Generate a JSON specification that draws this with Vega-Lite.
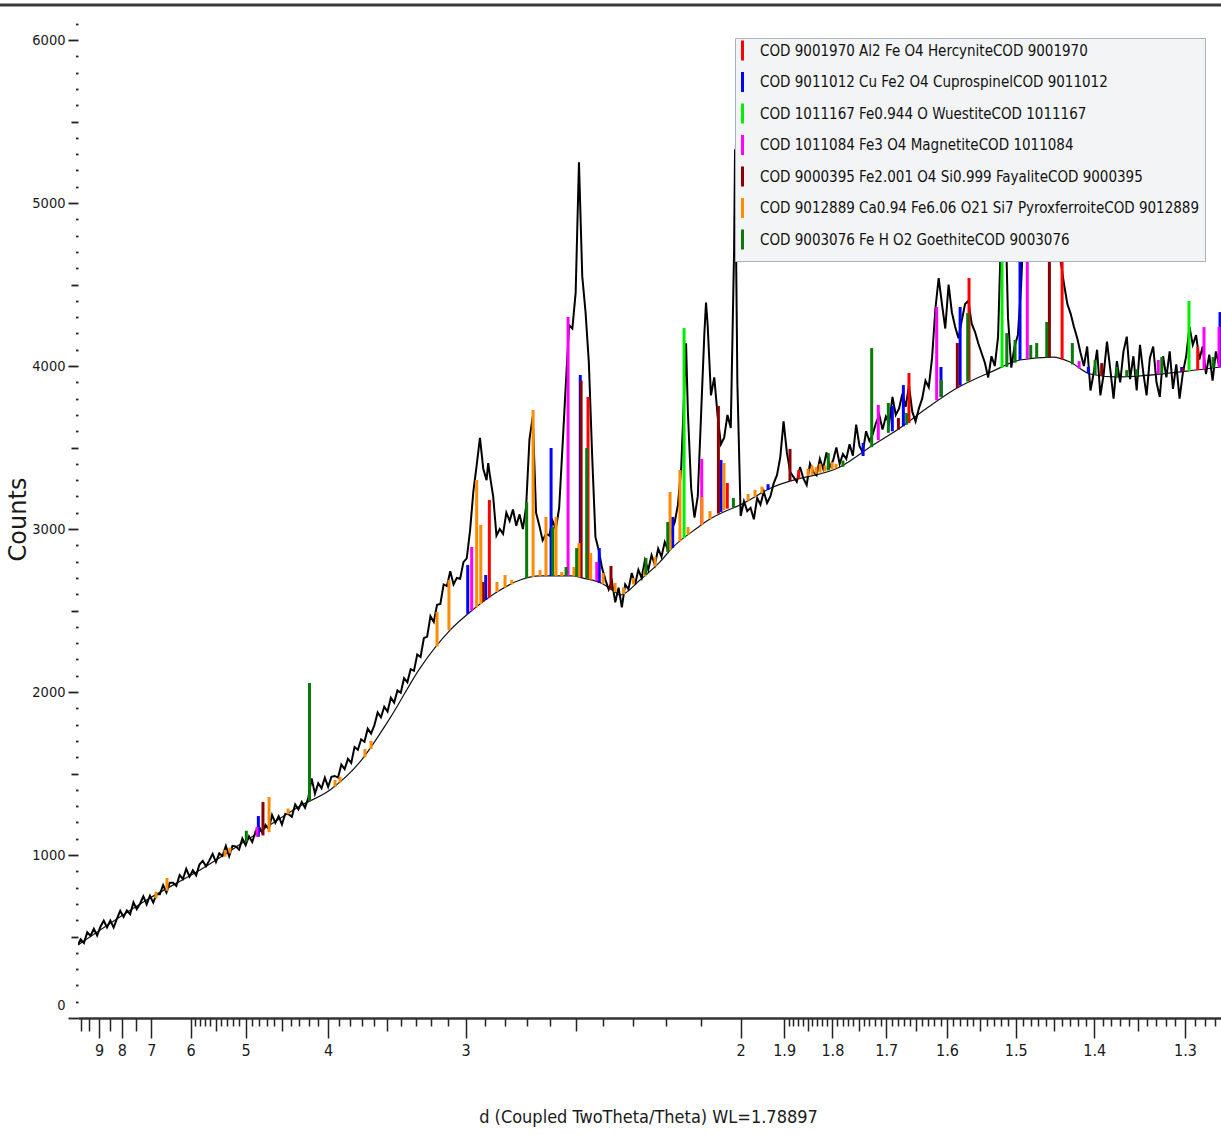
{
  "$schema": "https://vega.github.io/schema/vega-lite/v6.json",
  "width": 1143,
  "height": 1013,
  "autosize": {"type": "none"},
  "padding": {"left": 78, "top": 5, "right": 0, "bottom": 117},
  "background": "white",
  "config": {
    "view": {"stroke": null},
    "font": "DejaVu Sans Condensed, sans-serif"
  },
  "datasets": {
    "scan": [
      {"q":0.0985,"c":452},{"q":0.100,"c":483},{"q":0.102,"c":460},{"q":0.104,"c":526},{"q":0.106,"c":505},{"q":0.108,"c":547},{"q":0.110,"c":506},{"q":0.112,"c":560},{"q":0.114,"c":597},{"q":0.116,"c":555},{"q":0.118,"c":598},{"q":0.120,"c":555},{"q":0.122,"c":609},{"q":0.124,"c":658},{"q":0.126,"c":620},{"q":0.128,"c":660},{"q":0.130,"c":637},{"q":0.132,"c":710},{"q":0.134,"c":668},{"q":0.136,"c":701},{"q":0.138,"c":747},{"q":0.140,"c":697},{"q":0.142,"c":750},{"q":0.144,"c":708},{"q":0.146,"c":760},{"q":0.148,"c":760},{"q":0.150,"c":815},{"q":0.152,"c":770},{"q":0.154,"c":830},{"q":0.156,"c":830},{"q":0.158,"c":810},{"q":0.160,"c":877},{"q":0.162,"c":853},{"q":0.164,"c":915},{"q":0.166,"c":867},{"q":0.168,"c":907},{"q":0.170,"c":875},{"q":0.172,"c":942},{"q":0.174,"c":964},{"q":0.176,"c":931},{"q":0.178,"c":967},{"q":0.180,"c":1007},{"q":0.182,"c":957},{"q":0.184,"c":1010},{"q":0.186,"c":995},{"q":0.188,"c":1055},{"q":0.190,"c":993},{"q":0.192,"c":1056},{"q":0.194,"c":1053},{"q":0.196,"c":1033},{"q":0.198,"c":1101},{"q":0.200,"c":1060},{"q":0.202,"c":1115},{"q":0.204,"c":1080},{"q":0.206,"c":1145},{"q":0.208,"c":1175},{"q":0.210,"c":1140},{"q":0.212,"c":1185},{"q":0.214,"c":1160},{"q":0.216,"c":1245},{"q":0.218,"c":1197},{"q":0.220,"c":1238},{"q":0.222,"c":1187},{"q":0.224,"c":1253},{"q":0.226,"c":1250},{"q":0.228,"c":1235},{"q":0.230,"c":1310},{"q":0.232,"c":1280},{"q":0.234,"c":1325},{"q":0.236,"c":1290},{"q":0.238,"c":1353},{"q":0.240,"c":1470},{"q":0.242,"c":1375},{"q":0.244,"c":1440},{"q":0.246,"c":1410},{"q":0.248,"c":1475},{"q":0.250,"c":1418},{"q":0.252,"c":1480},{"q":0.254,"c":1485},{"q":0.256,"c":1475},{"q":0.258,"c":1555},{"q":0.260,"c":1527},{"q":0.262,"c":1590},{"q":0.264,"c":1565},{"q":0.266,"c":1662},{"q":0.268,"c":1645},{"q":0.270,"c":1710},{"q":0.272,"c":1695},{"q":0.274,"c":1775},{"q":0.276,"c":1745},{"q":0.278,"c":1795},{"q":0.280,"c":1875},{"q":0.282,"c":1845},{"q":0.284,"c":1910},{"q":0.286,"c":1880},{"q":0.288,"c":1965},{"q":0.290,"c":1935},{"q":0.292,"c":2010},{"q":0.294,"c":1995},{"q":0.296,"c":2085},{"q":0.298,"c":2060},{"q":0.300,"c":2140},{"q":0.302,"c":2130},{"q":0.304,"c":2230},{"q":0.306,"c":2215},{"q":0.308,"c":2330},{"q":0.310,"c":2340},{"q":0.312,"c":2465},{"q":0.314,"c":2430},{"q":0.316,"c":2535},{"q":0.318,"c":2540},{"q":0.320,"c":2660},{"q":0.322,"c":2650},{"q":0.324,"c":2741},{"q":0.326,"c":2660},{"q":0.328,"c":2700},{"q":0.330,"c":2695},{"q":0.332,"c":2797},{"q":0.334,"c":2820},{"q":0.336,"c":2990},{"q":0.338,"c":3230},{"q":0.340,"c":3390},{"q":0.342,"c":3560},{"q":0.344,"c":3370},{"q":0.346,"c":3300},{"q":0.347,"c":3405},{"q":0.348,"c":3330},{"q":0.350,"c":3200},{"q":0.352,"c":2960},{"q":0.354,"c":3000},{"q":0.356,"c":2970},{"q":0.358,"c":3100},{"q":0.360,"c":3050},{"q":0.362,"c":3120},{"q":0.364,"c":3020},{"q":0.366,"c":3090},{"q":0.368,"c":3000},{"q":0.370,"c":3140},{"q":0.372,"c":3550},{"q":0.374,"c":3690},{"q":0.376,"c":3100},{"q":0.378,"c":3020},{"q":0.380,"c":2930},{"q":0.382,"c":2970},{"q":0.384,"c":2960},{"q":0.386,"c":3050},{"q":0.388,"c":3000},{"q":0.390,"c":3130},{"q":0.392,"c":3500},{"q":0.394,"c":3880},{"q":0.396,"c":4250},{"q":0.398,"c":4230},{"q":0.400,"c":4450},{"q":0.402,"c":5250},{"q":0.404,"c":4550},{"q":0.406,"c":4330},{"q":0.408,"c":4020},{"q":0.410,"c":3450},{"q":0.412,"c":2950},{"q":0.414,"c":2870},{"q":0.416,"c":2760},{"q":0.418,"c":2690},{"q":0.420,"c":2630},{"q":0.422,"c":2680},{"q":0.424,"c":2550},{"q":0.426,"c":2640},{"q":0.428,"c":2520},{"q":0.430,"c":2660},{"q":0.432,"c":2630},{"q":0.434,"c":2730},{"q":0.436,"c":2660},{"q":0.438,"c":2750},{"q":0.440,"c":2700},{"q":0.442,"c":2810},{"q":0.444,"c":2750},{"q":0.446,"c":2840},{"q":0.448,"c":2780},{"q":0.450,"c":2880},{"q":0.452,"c":2830},{"q":0.454,"c":2920},{"q":0.456,"c":2870},{"q":0.458,"c":2990},{"q":0.460,"c":3040},{"q":0.462,"c":3150},{"q":0.464,"c":3380},{"q":0.466,"c":3900},{"q":0.4669,"c":4140},{"q":0.468,"c":3720},{"q":0.470,"c":3250},{"q":0.472,"c":3070},{"q":0.474,"c":3200},{"q":0.476,"c":3700},{"q":0.478,"c":4200},{"q":0.479,"c":4390},{"q":0.480,"c":4250},{"q":0.482,"c":3820},{"q":0.484,"c":3930},{"q":0.486,"c":3700},{"q":0.488,"c":3520},{"q":0.490,"c":3560},{"q":0.492,"c":3700},{"q":0.494,"c":3620},{"q":0.496,"c":4700},{"q":0.4966,"c":5330},{"q":0.498,"c":3900},{"q":0.500,"c":3080},{"q":0.502,"c":3170},{"q":0.504,"c":3110},{"q":0.506,"c":3130},{"q":0.508,"c":3060},{"q":0.510,"c":3190},{"q":0.512,"c":3150},{"q":0.514,"c":3230},{"q":0.516,"c":3160},{"q":0.518,"c":3200},{"q":0.520,"c":3280},{"q":0.522,"c":3330},{"q":0.524,"c":3440},{"q":0.526,"c":3660},{"q":0.528,"c":3470},{"q":0.530,"c":3350},{"q":0.532,"c":3320},{"q":0.534,"c":3290},{"q":0.536,"c":3380},{"q":0.538,"c":3310},{"q":0.540,"c":3270},{"q":0.542,"c":3400},{"q":0.544,"c":3350},{"q":0.546,"c":3330},{"q":0.548,"c":3430},{"q":0.550,"c":3370},{"q":0.552,"c":3470},{"q":0.554,"c":3380},{"q":0.556,"c":3420},{"q":0.558,"c":3500},{"q":0.560,"c":3400},{"q":0.562,"c":3460},{"q":0.564,"c":3430},{"q":0.566,"c":3520},{"q":0.568,"c":3450},{"q":0.570,"c":3640},{"q":0.572,"c":3510},{"q":0.574,"c":3470},{"q":0.576,"c":3600},{"q":0.578,"c":3540},{"q":0.580,"c":3580},{"q":0.582,"c":3650},{"q":0.584,"c":3700},{"q":0.586,"c":3610},{"q":0.588,"c":3690},{"q":0.590,"c":3650},{"q":0.592,"c":3810},{"q":0.594,"c":3700},{"q":0.596,"c":3740},{"q":0.598,"c":3830},{"q":0.600,"c":3750},{"q":0.602,"c":3880},{"q":0.604,"c":3720},{"q":0.606,"c":3660},{"q":0.608,"c":3740},{"q":0.610,"c":3800},{"q":0.612,"c":3910},{"q":0.614,"c":3870},{"q":0.616,"c":4050},{"q":0.618,"c":4350},{"q":0.620,"c":4540},{"q":0.622,"c":4380},{"q":0.624,"c":4230},{"q":0.626,"c":4500},{"q":0.628,"c":4330},{"q":0.630,"c":4240},{"q":0.632,"c":4170},{"q":0.634,"c":4280},{"q":0.636,"c":4380},{"q":0.638,"c":4400},{"q":0.640,"c":4260},{"q":0.642,"c":4210},{"q":0.644,"c":4140},{"q":0.646,"c":4080},{"q":0.648,"c":4020},{"q":0.650,"c":3930},{"q":0.652,"c":4060},{"q":0.654,"c":4000},{"q":0.656,"c":4180},{"q":0.658,"c":4900},{"q":0.660,"c":5150},{"q":0.662,"c":4300},{"q":0.664,"c":3990},{"q":0.666,"c":4120},{"q":0.668,"c":4190},{"q":0.670,"c":4500},{"q":0.672,"c":5000},{"q":0.674,"c":5150},{"q":0.676,"c":4950},{"q":0.678,"c":4850},{"q":0.680,"c":4800},{"q":0.682,"c":4870},{"q":0.684,"c":4950},{"q":0.686,"c":5050},{"q":0.688,"c":4950},{"q":0.690,"c":4850},{"q":0.692,"c":4760},{"q":0.694,"c":4640},{"q":0.696,"c":4500},{"q":0.698,"c":4380},{"q":0.700,"c":4320},{"q":0.702,"c":4240},{"q":0.704,"c":4170},{"q":0.706,"c":4080},{"q":0.708,"c":4000},{"q":0.710,"c":4120},{"q":0.712,"c":3850},{"q":0.714,"c":3960},{"q":0.716,"c":4100},{"q":0.718,"c":3820},{"q":0.720,"c":3950},{"q":0.722,"c":4150},{"q":0.724,"c":3980},{"q":0.726,"c":3800},{"q":0.728,"c":4030},{"q":0.730,"c":3900},{"q":0.732,"c":4090},{"q":0.734,"c":4180},{"q":0.736,"c":3920},{"q":0.738,"c":4060},{"q":0.740,"c":3850},{"q":0.742,"c":4130},{"q":0.744,"c":3960},{"q":0.746,"c":3820},{"q":0.748,"c":4050},{"q":0.750,"c":4120},{"q":0.752,"c":3900},{"q":0.754,"c":3810},{"q":0.756,"c":4060},{"q":0.758,"c":3930},{"q":0.760,"c":4090},{"q":0.762,"c":3860},{"q":0.764,"c":4010},{"q":0.766,"c":3800},{"q":0.768,"c":3960},{"q":0.770,"c":4060},{"q":0.772,"c":4240},{"q":0.774,"c":4130},{"q":0.776,"c":4190},{"q":0.778,"c":4040},{"q":0.780,"c":4120},{"q":0.782,"c":3950},{"q":0.784,"c":4070},{"q":0.786,"c":3910},{"q":0.788,"c":4090},{"q":0.790,"c":4000},{"q":0.792,"c":4150}
    ],
    "background": [
      {"q":0.0984,"c":448},{"q":0.1420,"c":736},{"q":0.1723,"c":908},{"q":0.2026,"c":1104},{"q":0.2330,"c":1301},{"q":0.2511,"c":1399},{"q":0.2693,"c":1571},{"q":0.2875,"c":1840},{"q":0.3057,"c":2147},{"q":0.3239,"c":2380},{"q":0.3360,"c":2491},{"q":0.3523,"c":2614},{"q":0.3663,"c":2687},{"q":0.3784,"c":2712},{"q":0.3984,"c":2712},{"q":0.4045,"c":2699},{"q":0.4166,"c":2663},{"q":0.4239,"c":2613},{"q":0.4269,"c":2595},{"q":0.4390,"c":2687},{"q":0.4511,"c":2798},{"q":0.4584,"c":2883},{"q":0.4736,"c":3006},{"q":0.4814,"c":3061},{"q":0.4954,"c":3129},{"q":0.4996,"c":3147},{"q":0.5196,"c":3258},{"q":0.5299,"c":3294},{"q":0.5602,"c":3380},{"q":0.5802,"c":3515},{"q":0.5966,"c":3620},{"q":0.6129,"c":3742},{"q":0.6311,"c":3865},{"q":0.6529,"c":3969},{"q":0.6693,"c":4037},{"q":0.6893,"c":4055},{"q":0.6996,"c":4025},{"q":0.7117,"c":3951},{"q":0.7281,"c":3933},{"q":0.7705,"c":3969},{"q":0.7911,"c":3994}
    ],
    "sticks": [
      {"phase":"COD 9001970 Al2 Fe O4 HercyniteCOD 9001970","q":0.3477,"base":2580,"top":3178},
      {"phase":"COD 9001970 Al2 Fe O4 HercyniteCOD 9001970","q":0.4075,"base":2696,"top":3810},
      {"phase":"COD 9001970 Al2 Fe O4 HercyniteCOD 9001970","q":0.4919,"base":3125,"top":3282},
      {"phase":"COD 9001970 Al2 Fe O4 HercyniteCOD 9001970","q":0.5352,"base":3308,"top":3362},
      {"phase":"COD 9001970 Al2 Fe O4 HercyniteCOD 9001970","q":0.6020,"base":3650,"top":3957},
      {"phase":"COD 9001970 Al2 Fe O4 HercyniteCOD 9001970","q":0.6384,"base":3910,"top":4540},
      {"phase":"COD 9001970 Al2 Fe O4 HercyniteCOD 9001970","q":0.6948,"base":4040,"top":5000},
      {"phase":"COD 9001970 Al2 Fe O4 HercyniteCOD 9001970","q":0.7770,"base":3975,"top":4117},
      {"phase":"COD 9011012 Cu Fe2 O4 CuprospinelCOD 9011012","q":0.2077,"base":1112,"top":1239},
      {"phase":"COD 9011012 Cu Fe2 O4 CuprospinelCOD 9011012","q":0.3346,"base":2480,"top":2779},
      {"phase":"COD 9011012 Cu Fe2 O4 CuprospinelCOD 9011012","q":0.3455,"base":2565,"top":2718},
      {"phase":"COD 9011012 Cu Fe2 O4 CuprospinelCOD 9011012","q":0.3851,"base":2712,"top":3497},
      {"phase":"COD 9011012 Cu Fe2 O4 CuprospinelCOD 9011012","q":0.4028,"base":2703,"top":3945},
      {"phase":"COD 9011012 Cu Fe2 O4 CuprospinelCOD 9011012","q":0.4143,"base":2670,"top":2883},
      {"phase":"COD 9011012 Cu Fe2 O4 CuprospinelCOD 9011012","q":0.4588,"base":2885,"top":3074},
      {"phase":"COD 9011012 Cu Fe2 O4 CuprospinelCOD 9011012","q":0.4881,"base":3105,"top":3423},
      {"phase":"COD 9011012 Cu Fe2 O4 CuprospinelCOD 9011012","q":0.5166,"base":3240,"top":3275},
      {"phase":"COD 9011012 Cu Fe2 O4 CuprospinelCOD 9011012","q":0.5742,"base":3448,"top":3528},
      {"phase":"COD 9011012 Cu Fe2 O4 CuprospinelCOD 9011012","q":0.5919,"base":3600,"top":3755},
      {"phase":"COD 9011012 Cu Fe2 O4 CuprospinelCOD 9011012","q":0.5986,"base":3630,"top":3883},
      {"phase":"COD 9011012 Cu Fe2 O4 CuprospinelCOD 9011012","q":0.6214,"base":3810,"top":3994},
      {"phase":"COD 9011012 Cu Fe2 O4 CuprospinelCOD 9011012","q":0.6330,"base":3880,"top":4362},
      {"phase":"COD 9011012 Cu Fe2 O4 CuprospinelCOD 9011012","q":0.6693,"base":4037,"top":5300},
      {"phase":"COD 9011012 Cu Fe2 O4 CuprospinelCOD 9011012","q":0.7107,"base":3955,"top":3995},
      {"phase":"COD 9011012 Cu Fe2 O4 CuprospinelCOD 9011012","q":0.7673,"base":3965,"top":3994},
      {"phase":"COD 9011012 Cu Fe2 O4 CuprospinelCOD 9011012","q":0.7905,"base":3994,"top":4331},
      {"phase":"COD 1011167 Fe0.944 O WuestiteCOD 1011167","q":0.4657,"base":2945,"top":4233},
      {"phase":"COD 1011167 Fe0.944 O WuestiteCOD 1011167","q":0.6584,"base":3990,"top":5600},
      {"phase":"COD 1011167 Fe0.944 O WuestiteCOD 1011167","q":0.7717,"base":3969,"top":4399},
      {"phase":"COD 1011084 Fe3 O4 MagnetiteCOD 1011084","q":0.2069,"base":1112,"top":1172},
      {"phase":"COD 1011084 Fe3 O4 MagnetiteCOD 1011084","q":0.3370,"base":2500,"top":2890},
      {"phase":"COD 1011084 Fe3 O4 MagnetiteCOD 1011084","q":0.3954,"base":2712,"top":4301},
      {"phase":"COD 1011084 Fe3 O4 MagnetiteCOD 1011084","q":0.4128,"base":2680,"top":2798},
      {"phase":"COD 1011084 Fe3 O4 MagnetiteCOD 1011084","q":0.4764,"base":3025,"top":3430},
      {"phase":"COD 1011084 Fe3 O4 MagnetiteCOD 1011084","q":0.5834,"base":3545,"top":3761},
      {"phase":"COD 1011084 Fe3 O4 MagnetiteCOD 1011084","q":0.6188,"base":3790,"top":4362},
      {"phase":"COD 1011084 Fe3 O4 MagnetiteCOD 1011084","q":0.6737,"base":4045,"top":5400},
      {"phase":"COD 1011084 Fe3 O4 MagnetiteCOD 1011084","q":0.7051,"base":3985,"top":4030},
      {"phase":"COD 1011084 Fe3 O4 MagnetiteCOD 1011084","q":0.7531,"base":3950,"top":4037},
      {"phase":"COD 1011084 Fe3 O4 MagnetiteCOD 1011084","q":0.7808,"base":3980,"top":4239},
      {"phase":"COD 1011084 Fe3 O4 MagnetiteCOD 1011084","q":0.7899,"base":3993,"top":4239},
      {"phase":"COD 9000395 Fe2.001 O4 Si0.999 FayaliteCOD 9000395","q":0.2105,"base":1120,"top":1325},
      {"phase":"COD 9000395 Fe2.001 O4 Si0.999 FayaliteCOD 9000395","q":0.3440,"base":2555,"top":2675},
      {"phase":"COD 9000395 Fe2.001 O4 Si0.999 FayaliteCOD 9000395","q":0.4033,"base":2703,"top":3910},
      {"phase":"COD 9000395 Fe2.001 O4 Si0.999 FayaliteCOD 9000395","q":0.4214,"base":2630,"top":2773},
      {"phase":"COD 9000395 Fe2.001 O4 Si0.999 FayaliteCOD 9000395","q":0.4865,"base":3095,"top":3755},
      {"phase":"COD 9000395 Fe2.001 O4 Si0.999 FayaliteCOD 9000395","q":0.5299,"base":3294,"top":3491},
      {"phase":"COD 9000395 Fe2.001 O4 Si0.999 FayaliteCOD 9000395","q":0.5956,"base":3610,"top":3681},
      {"phase":"COD 9000395 Fe2.001 O4 Si0.999 FayaliteCOD 9000395","q":0.6313,"base":3865,"top":4141},
      {"phase":"COD 9000395 Fe2.001 O4 Si0.999 FayaliteCOD 9000395","q":0.6871,"base":4054,"top":5100},
      {"phase":"COD 9000395 Fe2.001 O4 Si0.999 FayaliteCOD 9000395","q":0.7188,"base":3940,"top":4018},
      {"phase":"COD 9000395 Fe2.001 O4 Si0.999 FayaliteCOD 9000395","q":0.7681,"base":3965,"top":3988},
      {"phase":"COD 9012889 Ca0.94 Fe6.06 O21 Si7 PyroxferroiteCOD 9012889","q":0.1457,"base":735,"top":775},
      {"phase":"COD 9012889 Ca0.94 Fe6.06 O21 Si7 PyroxferroiteCOD 9012889","q":0.1523,"base":780,"top":859},
      {"phase":"COD 9012889 Ca0.94 Fe6.06 O21 Si7 PyroxferroiteCOD 9012889","q":0.1875,"base":990,"top":1030},
      {"phase":"COD 9012889 Ca0.94 Fe6.06 O21 Si7 PyroxferroiteCOD 9012889","q":0.1905,"base":1010,"top":1045},
      {"phase":"COD 9012889 Ca0.94 Fe6.06 O21 Si7 PyroxferroiteCOD 9012889","q":0.2142,"base":1140,"top":1356},
      {"phase":"COD 9012889 Ca0.94 Fe6.06 O21 Si7 PyroxferroiteCOD 9012889","q":0.2257,"base":1250,"top":1285},
      {"phase":"COD 9012889 Ca0.94 Fe6.06 O21 Si7 PyroxferroiteCOD 9012889","q":0.2542,"base":1420,"top":1460},
      {"phase":"COD 9012889 Ca0.94 Fe6.06 O21 Si7 PyroxferroiteCOD 9012889","q":0.2572,"base":1445,"top":1480},
      {"phase":"COD 9012889 Ca0.94 Fe6.06 O21 Si7 PyroxferroiteCOD 9012889","q":0.2723,"base":1600,"top":1650},
      {"phase":"COD 9012889 Ca0.94 Fe6.06 O21 Si7 PyroxferroiteCOD 9012889","q":0.2760,"base":1650,"top":1700},
      {"phase":"COD 9012889 Ca0.94 Fe6.06 O21 Si7 PyroxferroiteCOD 9012889","q":0.3160,"base":2279,"top":2491},
      {"phase":"COD 9012889 Ca0.94 Fe6.06 O21 Si7 PyroxferroiteCOD 9012889","q":0.3232,"base":2380,"top":2687},
      {"phase":"COD 9012889 Ca0.94 Fe6.06 O21 Si7 PyroxferroiteCOD 9012889","q":0.3400,"base":2520,"top":3301},
      {"phase":"COD 9012889 Ca0.94 Fe6.06 O21 Si7 PyroxferroiteCOD 9012889","q":0.3425,"base":2540,"top":3025},
      {"phase":"COD 9012889 Ca0.94 Fe6.06 O21 Si7 PyroxferroiteCOD 9012889","q":0.3523,"base":2614,"top":2675},
      {"phase":"COD 9012889 Ca0.94 Fe6.06 O21 Si7 PyroxferroiteCOD 9012889","q":0.3572,"base":2640,"top":2718},
      {"phase":"COD 9012889 Ca0.94 Fe6.06 O21 Si7 PyroxferroiteCOD 9012889","q":0.3613,"base":2660,"top":2687},
      {"phase":"COD 9012889 Ca0.94 Fe6.06 O21 Si7 PyroxferroiteCOD 9012889","q":0.3742,"base":2705,"top":3730},
      {"phase":"COD 9012889 Ca0.94 Fe6.06 O21 Si7 PyroxferroiteCOD 9012889","q":0.3784,"base":2712,"top":2748},
      {"phase":"COD 9012889 Ca0.94 Fe6.06 O21 Si7 PyroxferroiteCOD 9012889","q":0.3820,"base":2712,"top":3074},
      {"phase":"COD 9012889 Ca0.94 Fe6.06 O21 Si7 PyroxferroiteCOD 9012889","q":0.3881,"base":2712,"top":3074},
      {"phase":"COD 9012889 Ca0.94 Fe6.06 O21 Si7 PyroxferroiteCOD 9012889","q":0.3916,"base":2712,"top":2736},
      {"phase":"COD 9012889 Ca0.94 Fe6.06 O21 Si7 PyroxferroiteCOD 9012889","q":0.3990,"base":2712,"top":2767},
      {"phase":"COD 9012889 Ca0.94 Fe6.06 O21 Si7 PyroxferroiteCOD 9012889","q":0.4020,"base":2703,"top":2914},
      {"phase":"COD 9012889 Ca0.94 Fe6.06 O21 Si7 PyroxferroiteCOD 9012889","q":0.4091,"base":2690,"top":2853},
      {"phase":"COD 9012889 Ca0.94 Fe6.06 O21 Si7 PyroxferroiteCOD 9012889","q":0.4166,"base":2663,"top":2730},
      {"phase":"COD 9012889 Ca0.94 Fe6.06 O21 Si7 PyroxferroiteCOD 9012889","q":0.4239,"base":2613,"top":2669},
      {"phase":"COD 9012889 Ca0.94 Fe6.06 O21 Si7 PyroxferroiteCOD 9012889","q":0.4290,"base":2600,"top":2640},
      {"phase":"COD 9012889 Ca0.94 Fe6.06 O21 Si7 PyroxferroiteCOD 9012889","q":0.4350,"base":2660,"top":2700},
      {"phase":"COD 9012889 Ca0.94 Fe6.06 O21 Si7 PyroxferroiteCOD 9012889","q":0.4420,"base":2710,"top":2750},
      {"phase":"COD 9012889 Ca0.94 Fe6.06 O21 Si7 PyroxferroiteCOD 9012889","q":0.4481,"base":2770,"top":2828},
      {"phase":"COD 9012889 Ca0.94 Fe6.06 O21 Si7 PyroxferroiteCOD 9012889","q":0.4572,"base":2870,"top":3227},
      {"phase":"COD 9012889 Ca0.94 Fe6.06 O21 Si7 PyroxferroiteCOD 9012889","q":0.4632,"base":2925,"top":3362},
      {"phase":"COD 9012889 Ca0.94 Fe6.06 O21 Si7 PyroxferroiteCOD 9012889","q":0.4681,"base":2965,"top":3012},
      {"phase":"COD 9012889 Ca0.94 Fe6.06 O21 Si7 PyroxferroiteCOD 9012889","q":0.4765,"base":3025,"top":3196},
      {"phase":"COD 9012889 Ca0.94 Fe6.06 O21 Si7 PyroxferroiteCOD 9012889","q":0.4814,"base":3061,"top":3110},
      {"phase":"COD 9012889 Ca0.94 Fe6.06 O21 Si7 PyroxferroiteCOD 9012889","q":0.4899,"base":3115,"top":3405},
      {"phase":"COD 9012889 Ca0.94 Fe6.06 O21 Si7 PyroxferroiteCOD 9012889","q":0.5045,"base":3174,"top":3215},
      {"phase":"COD 9012889 Ca0.94 Fe6.06 O21 Si7 PyroxferroiteCOD 9012889","q":0.5087,"base":3197,"top":3240},
      {"phase":"COD 9012889 Ca0.94 Fe6.06 O21 Si7 PyroxferroiteCOD 9012889","q":0.5129,"base":3221,"top":3260},
      {"phase":"COD 9012889 Ca0.94 Fe6.06 O21 Si7 PyroxferroiteCOD 9012889","q":0.5408,"base":3325,"top":3370},
      {"phase":"COD 9012889 Ca0.94 Fe6.06 O21 Si7 PyroxferroiteCOD 9012889","q":0.5433,"base":3332,"top":3390},
      {"phase":"COD 9012889 Ca0.94 Fe6.06 O21 Si7 PyroxferroiteCOD 9012889","q":0.5457,"base":3339,"top":3380},
      {"phase":"COD 9012889 Ca0.94 Fe6.06 O21 Si7 PyroxferroiteCOD 9012889","q":0.5481,"base":3346,"top":3400},
      {"phase":"COD 9012889 Ca0.94 Fe6.06 O21 Si7 PyroxferroiteCOD 9012889","q":0.5511,"base":3354,"top":3390},
      {"phase":"COD 9012889 Ca0.94 Fe6.06 O21 Si7 PyroxferroiteCOD 9012889","q":0.5554,"base":3366,"top":3410},
      {"phase":"COD 9012889 Ca0.94 Fe6.06 O21 Si7 PyroxferroiteCOD 9012889","q":0.5578,"base":3373,"top":3400},
      {"phase":"COD 9003076 Fe H O2 GoethiteCOD 9003076","q":0.2004,"base":1082,"top":1149},
      {"phase":"COD 9003076 Fe H O2 GoethiteCOD 9003076","q":0.2387,"base":1330,"top":2055},
      {"phase":"COD 9003076 Fe H O2 GoethiteCOD 9003076","q":0.3703,"base":2700,"top":3166},
      {"phase":"COD 9003076 Fe H O2 GoethiteCOD 9003076","q":0.3861,"base":2712,"top":3012},
      {"phase":"COD 9003076 Fe H O2 GoethiteCOD 9003076","q":0.3942,"base":2712,"top":2767},
      {"phase":"COD 9003076 Fe H O2 GoethiteCOD 9003076","q":0.4006,"base":2705,"top":2883},
      {"phase":"COD 9003076 Fe H O2 GoethiteCOD 9003076","q":0.4067,"base":2699,"top":3497},
      {"phase":"COD 9003076 Fe H O2 GoethiteCOD 9003076","q":0.4426,"base":2720,"top":2822},
      {"phase":"COD 9003076 Fe H O2 GoethiteCOD 9003076","q":0.4558,"base":2860,"top":3043},
      {"phase":"COD 9003076 Fe H O2 GoethiteCOD 9003076","q":0.4956,"base":3130,"top":3190},
      {"phase":"COD 9003076 Fe H O2 GoethiteCOD 9003076","q":0.5531,"base":3360,"top":3466},
      {"phase":"COD 9003076 Fe H O2 GoethiteCOD 9003076","q":0.5620,"base":3382,"top":3420},
      {"phase":"COD 9003076 Fe H O2 GoethiteCOD 9003076","q":0.5794,"base":3502,"top":4110},
      {"phase":"COD 9003076 Fe H O2 GoethiteCOD 9003076","q":0.5895,"base":3590,"top":3773},
      {"phase":"COD 9003076 Fe H O2 GoethiteCOD 9003076","q":0.6006,"base":3640,"top":3712},
      {"phase":"COD 9003076 Fe H O2 GoethiteCOD 9003076","q":0.6216,"base":3810,"top":3914},
      {"phase":"COD 9003076 Fe H O2 GoethiteCOD 9003076","q":0.6376,"base":3905,"top":4325},
      {"phase":"COD 9003076 Fe H O2 GoethiteCOD 9003076","q":0.6613,"base":3995,"top":4202},
      {"phase":"COD 9003076 Fe H O2 GoethiteCOD 9003076","q":0.6663,"base":4020,"top":4160},
      {"phase":"COD 9003076 Fe H O2 GoethiteCOD 9003076","q":0.6758,"base":4048,"top":4129},
      {"phase":"COD 9003076 Fe H O2 GoethiteCOD 9003076","q":0.6794,"base":4050,"top":4141},
      {"phase":"COD 9003076 Fe H O2 GoethiteCOD 9003076","q":0.6855,"base":4053,"top":4270},
      {"phase":"COD 9003076 Fe H O2 GoethiteCOD 9003076","q":0.7010,"base":4010,"top":4141},
      {"phase":"COD 9003076 Fe H O2 GoethiteCOD 9003076","q":0.7148,"base":3945,"top":4037},
      {"phase":"COD 9003076 Fe H O2 GoethiteCOD 9003076","q":0.7279,"base":3933,"top":3994},
      {"phase":"COD 9003076 Fe H O2 GoethiteCOD 9003076","q":0.7340,"base":3935,"top":3975},
      {"phase":"COD 9003076 Fe H O2 GoethiteCOD 9003076","q":0.7400,"base":3937,"top":3980},
      {"phase":"COD 9003076 Fe H O2 GoethiteCOD 9003076","q":0.7552,"base":3952,"top":4055},
      {"phase":"COD 9003076 Fe H O2 GoethiteCOD 9003076","q":0.7863,"base":3988,"top":4055}
    ]
  },
  "layer": [
    {
      "data": {"name": "background"},
      "mark": {"type": "line", "color": "#111111", "strokeWidth": 1.2, "interpolate": "monotone", "clip": true},
      "encoding": {
        "x": {
          "field": "q", "type": "quantitative",
          "scale": {"type": "linear", "domain": [0.0984, 0.7911], "nice": false, "zero": false},
          "axis": {
            "title": "d (Coupled TwoTheta/Theta) WL=1.78897",
            "titleFont": "DejaVu Sans Condensed, sans-serif",
            "titleFontSize": 18, "titleFontWeight": "normal", "titleColor": "#1a1a1a",
            "titleX": 570, "titleY": 99, "titleBaseline": "middle", "titleAnchor": "middle", "titleAlign": "center",
            "tickCount": 500,
            "values": [0.1,0.1052632,0.1111111,0.1176471,0.125,0.1333333,0.1428571,0.1666667,0.1694915,0.1724138,0.1754386,0.1785714,0.1818182,0.1851852,0.1886792,0.1923077,0.1960784,0.2,0.2040816,0.2083333,0.212766,0.2173913,0.2222222,0.2272727,0.2325581,0.2380952,0.2439024,0.25,0.2564103,0.2631579,0.2702703,0.2777778,0.2857143,0.2941176,0.3030303,0.3125,0.3225806,0.3333333,0.3448276,0.3571429,0.3703704,0.3846154,0.4,0.4166667,0.4347826,0.4545455,0.4761905,0.5,0.5263158,0.5291005,0.5319149,0.5347594,0.5376344,0.5405405,0.5434783,0.5464481,0.5494505,0.5524862,0.5555556,0.5586592,0.5617978,0.5649718,0.5681818,0.5714286,0.5747126,0.5780347,0.5813953,0.5847953,0.5882353,0.591716,0.5952381,0.5988024,0.6024096,0.6060606,0.6097561,0.6134969,0.617284,0.621118,0.625,0.6289308,0.6329114,0.6369427,0.6410256,0.6451613,0.6493506,0.6535948,0.6578947,0.6622517,0.6666667,0.6711409,0.6756757,0.6802721,0.6849315,0.6896552,0.6944444,0.6993007,0.7042254,0.7092199,0.7142857,0.7194245,0.7246377,0.729927,0.7352941,0.7407407,0.7462687,0.7518797,0.7575758,0.7633588,0.7692308,0.7751938,0.78125,0.7874016],
            "labelExpr": "abs(10/datum.value-round(10/datum.value))<0.002 && datum.value>0.105 && (1/datum.value<1.95 || abs(1/datum.value-round(1/datum.value))<0.001) ? format(1/datum.value, '.3~g') : ''",
            "labelFontSize": 16, "labelColor": "#1a1a1a", "labelPadding": 4,
            "labelOverlap": false, "labelFlush": false, "labelBound": false,
            "tickSize": {"condition": [
              {"test": "abs(10/datum.value-round(10/datum.value))<0.002 && datum.value>0.105 && (1/datum.value<1.95 || abs(1/datum.value-round(1/datum.value))<0.001)", "value": 20},
              {"test": "abs(20/datum.value-round(20/datum.value))<0.004 && (1/datum.value<1.95 || abs(2/datum.value-round(2/datum.value))<0.002)", "value": 13}
            ], "value": 8},
            "tickColor": "#222222", "tickWidth": 1.5,
            "domain": true, "domainColor": "#333333", "domainWidth": 2.5,
            "grid": false
          }
        },
        "y": {
          "field": "c", "type": "quantitative",
          "scale": {"domain": [0, 6215], "nice": false, "zero": false},
          "axis": {
            "title": "Counts",
            "titleFont": "DejaVu Sans, sans-serif",
            "titleFontSize": 24, "titleFontWeight": "normal", "titleColor": "#1a1a1a",
            "titleX": -60, "titleY": 514, "titleBaseline": "middle", "titleAngle": -90, "titleAlign": "center",
            "tickCount": 500,
            "values": [0,100,200,300,400,500,600,700,800,900,1000,1100,1200,1300,1400,1500,1600,1700,1800,1900,2000,2100,2200,2300,2400,2500,2600,2700,2800,2900,3000,3100,3200,3300,3400,3500,3600,3700,3800,3900,4000,4100,4200,4300,4400,4500,4600,4700,4800,4900,5000,5100,5200,5300,5400,5500,5600,5700,5800,5900,6000,6100],
            "labelExpr": "datum.value % 1000 === 0 ? format(datum.value, 'd') : ''",
            "labelFontSize": 14.5, "labelColor": "#1a1a1a", "labelPadding": 3,
            "labelOffset": {"condition": {"test": "datum.value === 0", "value": -13}, "value": 0},
            "labelOverlap": false, "labelBound": false,
            "tickSize": {"condition": [
              {"test": "datum.value % 1000 === 0", "value": 10},
              {"test": "datum.value % 500 === 0", "value": 7}
            ], "value": 2.5},
            "tickColor": "#222222", "tickWidth": 1.8,
            "domain": false, "grid": false
          }
        }
      }
    },
    {
      "data": {"name": "scan"},
      "mark": {"type": "line", "color": "#000000", "strokeWidth": 2, "clip": true},
      "encoding": {
        "x": {"field": "q", "type": "quantitative"},
        "y": {"field": "c", "type": "quantitative"}
      }
    },
    {
      "data": {"name": "sticks"},
      "mark": {"type": "rule", "strokeWidth": 3, "clip": true},
      "encoding": {
        "x": {"field": "q", "type": "quantitative"},
        "y": {"field": "base", "type": "quantitative"},
        "y2": {"field": "top"},
        "color": {
          "field": "phase", "type": "nominal",
          "scale": {
            "domain": [
              "COD 9001970 Al2 Fe O4 HercyniteCOD 9001970",
              "COD 9011012 Cu Fe2 O4 CuprospinelCOD 9011012",
              "COD 1011167 Fe0.944 O WuestiteCOD 1011167",
              "COD 1011084 Fe3 O4 MagnetiteCOD 1011084",
              "COD 9000395 Fe2.001 O4 Si0.999 FayaliteCOD 9000395",
              "COD 9012889 Ca0.94 Fe6.06 O21 Si7 PyroxferroiteCOD 9012889",
              "COD 9003076 Fe H O2 GoethiteCOD 9003076"
            ],
            "range": ["#ff0000", "#0000ff", "#00ee00", "#ff00ff", "#8b0000", "#ff8c00", "#087a08"]
          },
          "legend": {
            "orient": "none", "legendX": 657, "legendY": 33,
            "title": null,
            "fillColor": "#f3f4f6", "strokeColor": "#a9b3c2", "padding": 5,
            "symbolType": "M0,-2L0,2", "symbolSize": 100, "symbolStrokeWidth": 3, "symbolOffset": -5,
            "labelFontSize": 15, "labelColor": "#111111", "labelOffset": 10, "labelLimit": 700,
            "rowPadding": -1.5
          }
        }
      }
    },
    {
      "data": {"values": [{}]},
      "mark": {"type": "rule", "clip": false, "color": "#3c3c3c", "strokeWidth": 3},
      "encoding": {
        "x": {"datum": 0.05, "type": "quantitative"},
        "x2": {"datum": 0.8},
        "y": {"datum": 6215, "type": "quantitative"}
      }
    }
  ]
}
